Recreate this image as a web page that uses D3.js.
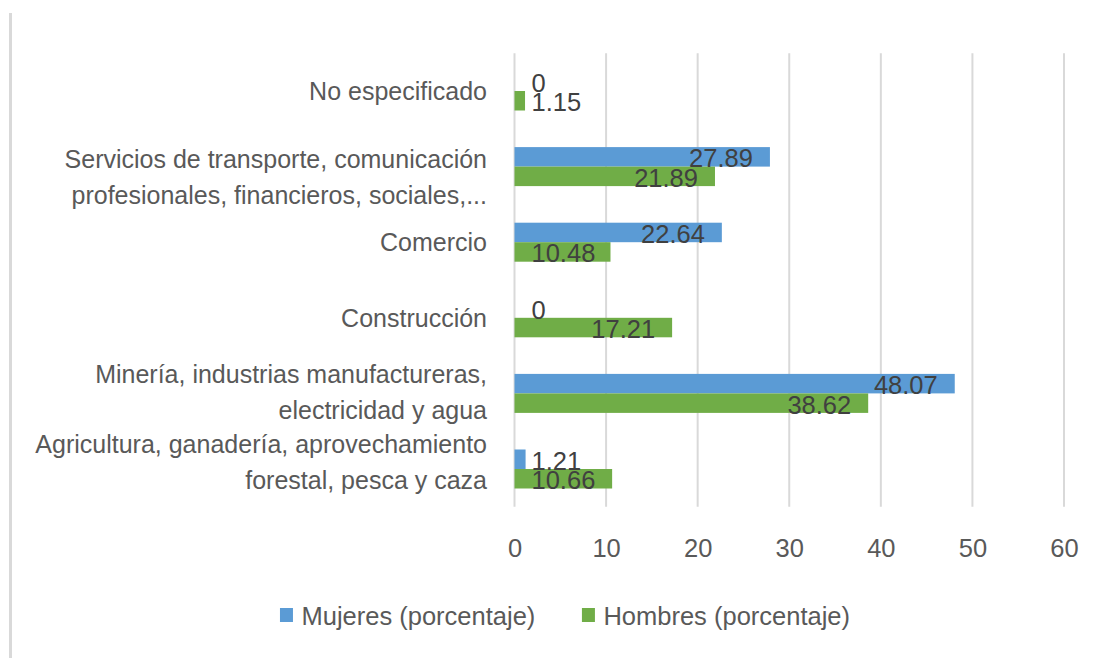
<!DOCTYPE html>
<html>
<head>
<meta charset="utf-8">
<script src="https://cdn.jsdelivr.net/npm/d3@7"></script>
<style>
  html, body { margin: 0; padding: 0; background: #ffffff; }
  svg { display: block; }
  text { font-family: "Liberation Sans", Arial, sans-serif; }
</style>
</head>
<body>
<svg id="chart" width="1098" height="658"></svg>
<script>
// ---- data ----
const categories = [
  "No especificado",
  "Servicios de transporte, comunicación profesionales, financieros, sociales,...",
  "Comercio",
  "Construcción",
  "Minería, industrias manufactureras, electricidad y agua",
  "Agricultura, ganadería, aprovechamiento forestal, pesca y caza"
];
const categoryLines = [
  ["No especificado"],
  ["Servicios de transporte, comunicación", "profesionales, financieros, sociales,..."],
  ["Comercio"],
  ["Construcción"],
  ["Minería, industrias manufactureras,", "electricidad y agua"],
  ["Agricultura, ganadería, aprovechamiento", "forestal, pesca y caza"]
];
const seriesNames = ["Mujeres (porcentaje)", "Hombres (porcentaje)"];
const mujeres = [0, 27.89, 22.64, 0, 48.07, 1.21];
const hombres = [1.15, 21.89, 10.48, 17.21, 38.62, 10.66];
const xTicks = [0, 10, 20, 30, 40, 50, 60];

// ---- style / layout ----
const colors = ["#5B9BD5", "#70AD47"];
const fontSize = 25.5;
const catFontSize = 25;
const plot = { left: 514.5, right: 1064, top: 53.2, bottom: 506.8 };
const barH = 19.5;
const labelLineGap = 36;
const catLabelShift = [0, 9, 0, 0, -2, -7.7]; // vertical nudges for wrapped labels

const svg = d3.select("#chart");
svg.append("rect").attr("width", 1098).attr("height", 658).attr("fill", "#fff");

// left border of chart area
svg.append("line")
  .attr("x1", 10.5).attr("x2", 10.5).attr("y1", 13).attr("y2", 658)
  .attr("stroke", "#d9d9d9").attr("stroke-width", 3);

const x = d3.scaleLinear().domain([0, 60]).range([plot.left, plot.right]);
const y = d3.scaleBand().domain(categories).range([plot.top, plot.bottom]).padding(0);
const ySeries = d3.scaleBand().domain(seriesNames)
  .range([y.bandwidth() / 2 - barH, y.bandwidth() / 2 + barH]).padding(0);

// gridlines
svg.append("g").selectAll("line").data(xTicks).join("line")
  .attr("x1", d => x(d)).attr("x2", d => x(d))
  .attr("y1", plot.top).attr("y2", plot.bottom)
  .attr("stroke", "#d9d9d9").attr("stroke-width", 2);

// x axis tick labels (via d3 axis)
const xAxis = d3.axisBottom(x).tickValues(xTicks).tickSize(0).tickPadding(0)
  .tickFormat(d3.format("d"));
const gx = svg.append("g").attr("transform", `translate(0,${557})`).call(xAxis);
gx.select(".domain").remove();
gx.selectAll("text")
  .attr("dy", null).attr("y", 0)
  .attr("fill", "#595959").style("font-size", fontSize + "px")
  .style("font-family", '"Liberation Sans", Arial, sans-serif');

// category labels
const catG = svg.append("g");
categories.forEach((c, i) => {
  const lines = categoryLines[i];
  const center = y(c) + y.bandwidth() / 2;
  let first;
  if (lines.length === 1) first = center + 9;
  else first = center - 8 + catLabelShift[i];
  const t = catG.append("text")
    .attr("text-anchor", "end")
    .attr("fill", "#595959")
    .style("font-size", catFontSize + "px");
  lines.forEach((ln, j) => {
    t.append("tspan").attr("x", 487).attr("y", first + j * labelLineGap).text(ln);
  });
});

// bars
const rows = categories.map((c, i) => ({ cat: c, vals: [mujeres[i], hombres[i]] }));
const barsG = svg.append("g");
rows.forEach(r => {
  r.vals.forEach((v, s) => {
    const top = y(r.cat) + ySeries(seriesNames[s]);
    if (v > 0) {
      barsG.append("rect")
        .attr("x", x(0)).attr("y", top)
        .attr("width", x(v) - x(0)).attr("height", ySeries.bandwidth())
        .attr("fill", colors[s]);
    }
  });
});

// data labels
const labG = svg.append("g");
rows.forEach(r => {
  r.vals.forEach((v, s) => {
    const top = y(r.cat) + ySeries(seriesNames[s]);
    const cy = top + ySeries.bandwidth() / 2;
    const t = labG.append("text")
      .attr("fill", "#404040")
      .style("font-size", fontSize + "px")
      .attr("y", cy + 10.5)
      .attr("text-anchor", "start")
      .text(String(v));
    const w = t.node().getComputedTextLength();
    const endX = Math.max(x(v) - 17, x(0) + 17 + w);
    t.attr("x", endX - w);
  });
});

// legend
const legG = svg.append("g");
const legItems = seriesNames.map((n, i) => {
  const g = legG.append("g");
  g.append("rect").attr("x", 0).attr("y", 608).attr("width", 13).attr("height", 14)
    .attr("fill", colors[i]);
  const t = g.append("text").attr("x", 21.5).attr("y", 625)
    .attr("fill", "#595959").style("font-size", fontSize + "px").text(n);
  return { g, w: 21.5 + t.node().getComputedTextLength() };
});
const gap = 46.6;
const total = legItems.reduce((a, b) => a + b.w, 0) + gap * (legItems.length - 1);
let lx = 565 - total / 2;
legItems.forEach(it => { it.g.attr("transform", `translate(${lx},0)`); lx += it.w + gap; });
</script>
</body>
</html>
